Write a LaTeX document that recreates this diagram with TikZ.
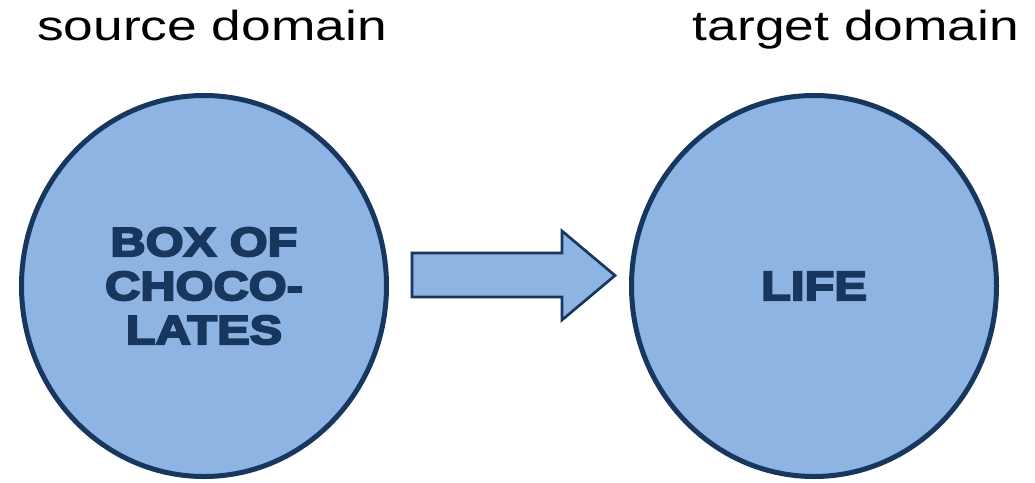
\documentclass[tikz,border=0pt]{standalone}
\usepackage{fontspec}
\usetikzlibrary{shapes.geometric}

\setmainfont{Liberation Sans}
\newfontfamily\headfont{Liberation Sans}[FakeStretch=1.27]
\newfontfamily\blackfont{Liberation Sans Bold}[FakeBold=5,FakeStretch=1.2]
\definecolor{domfill}{HTML}{8EB4E3}
\definecolor{domline}{HTML}{17375E}

\begin{document}
\begin{tikzpicture}[x=0.75pt, y=-0.75pt,
  domainbox/.style={ellipse, draw=domline, fill=domfill, line width=3.75pt,
    minimum width=273.75pt, minimum height=285.75pt, inner sep=0pt,
    align=center, text=domline, font=\blackfont\fontsize{30.5}{33}\selectfont},
  titlelabel/.style={anchor=base, font=\headfont\fontsize{31.5}{38}\selectfont}]

  \fill[white] (0,0) rectangle (1035,482);
  \useasboundingbox (0,0) rectangle (1035,482);

  % draw domains
  \node[domainbox] (source) at (204,286) {BOX OF\\CHOCO-\\LATES};
  \node[domainbox] (target) at (814,286) {LIFE};

  % label domains
  \node[titlelabel] (srclabel) at (212,40) {source domain};
  \node[titlelabel] (tgtlabel) at (856,40) {target domain};

  % draw mapping arrow
  \draw[domline, fill=domfill, line width=2pt, line join=miter]
  (412,253) -- (562,253) -- (562,231) -- (615,275.5)
  -- (562,320) -- (562,297) -- (412,297) -- cycle;
\end{tikzpicture}
\end{document}
